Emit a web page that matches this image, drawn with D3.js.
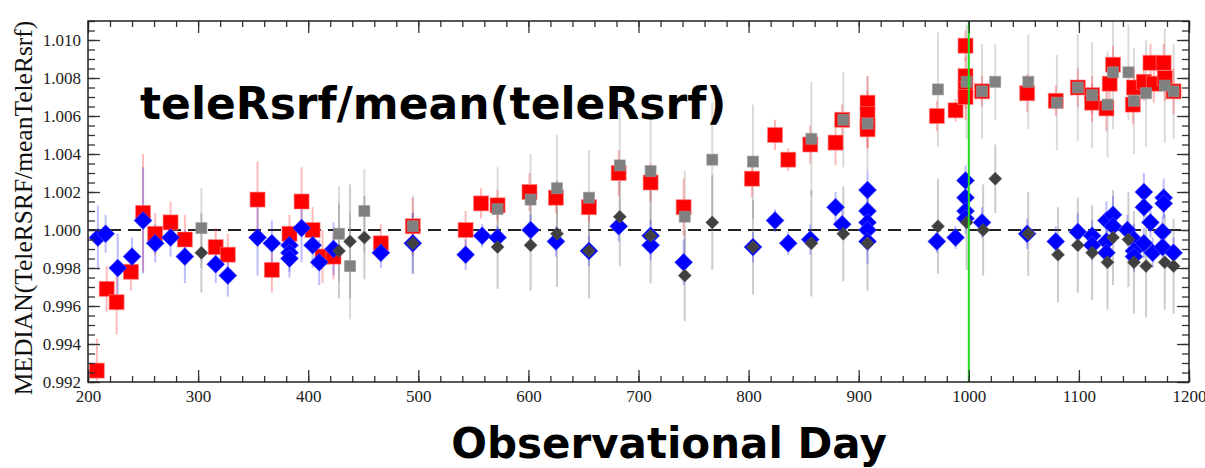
<!DOCTYPE html>
<html>
<head>
<meta charset="utf-8">
<script src="https://cdn.jsdelivr.net/npm/d3@7"></script>
<style>
  html, body { margin: 0; padding: 0; background: #fff; }
  svg { display: block; }
</style>
</head>
<body>
<svg id="chart" width="1205" height="468"></svg>
<script>
// ---- Data: [observational day, median ratio, error half-length] ----
const redSquares = [
  [208,0.9926,0.0017],[217,0.9969,0.0012],[226,0.9962,0.0017],[239,0.9978,0.0010],[250,1.0009,0.0031],
  [261,0.9998,0.0011],[275,1.0004,0.0011],[288,0.9995,0.0013],[316,0.9991,0.0010],[327,0.9987,0.0011],
  [354,1.0016,0.0020],[367,0.9979,0.0012],[383,0.9998,0.0010],[394,1.0015,0.0018],[404,1.0000,0.0012],
  [413,0.9986,0.0014],[423,0.9986,0.0012],[466,0.9993,0.0010],[495,1.0002,0.0015],[543,1.0000,0.0010],
  [557,1.0014,0.0008],[572,1.0013,0.0008],[601,1.0020,0.0010],[625,1.0017,0.0008],[655,1.0012,0.0008],
  [682,1.0030,0.0012],[711,1.0025,0.0010],[741,1.0012,0.0015],[803,1.0027,0.0010],[824,1.0050,0.0008],
  [836,1.0037,0.0006],[856,1.0045,0.0010],[879,1.0046,0.0012],[885,1.0058,0.0008],[908,1.0067,0.0014],
  [908,1.0061,0.0012],[908,1.0055,0.0012],[908,1.0053,0.0010],[971,1.0060,0.0008],[988,1.0063,0.0006],
  [997,1.0097,0.0008],[997,1.0081,0.0010],[997,1.0074,0.0010],[997,1.0070,0.0012],[1012,1.0073,0.0008],
  [1053,1.0072,0.0010],[1079,1.0068,0.0008],[1099,1.0075,0.0010],[1112,1.0071,0.0010],[1112,1.0067,0.0010],
  [1125,1.0064,0.0012],[1128,1.0077,0.0010],[1131,1.0087,0.0010],[1149,1.0066,0.0010],[1150,1.0075,0.0010],
  [1159,1.0078,0.0010],[1165,1.0088,0.0010],[1168,1.0077,0.0010],[1177,1.0088,0.0010],[1178,1.0080,0.0012],
  [1186,1.0073,0.0012]
];
const graySquares = [
  [303,1.0001,0.0021],[428,0.9998,0.0025],[438,0.9981,0.0028],[451,1.0010,0.0022],[495,1.0002,0.0016],
  [572,1.0011,0.0022],[602,1.0016,0.0024],[626,1.0022,0.0028],[655,1.0017,0.0025],[683,1.0034,0.0032],
  [711,1.0031,0.0028],[742,1.0007,0.0024],[767,1.0037,0.0030],[804,1.0036,0.0030],[857,1.0048,0.0030],
  [886,1.0058,0.0025],[908,1.0056,0.0025],[972,1.0074,0.0030],[998,1.0078,0.0030],[1012,1.0073,0.0025],
  [1024,1.0078,0.0020],[1054,1.0078,0.0025],[1080,1.0067,0.0025],[1099,1.0075,0.0028],[1112,1.0071,0.0028],
  [1126,1.0066,0.0028],[1131,1.0083,0.0030],[1145,1.0083,0.0025],[1150,1.0068,0.0028],[1161,1.0072,0.0028],
  [1178,1.0076,0.0030],[1186,1.0073,0.0025]
];
const blueDiamonds = [
  [209,0.9996,0.0017],[216,0.9998,0.0010],[227,0.9980,0.0018],[240,0.9986,0.0010],[250,1.0005,0.0028],
  [261,0.9993,0.0010],[275,0.9996,0.0010],[288,0.9986,0.0014],[316,0.9982,0.0010],[327,0.9976,0.0011],
  [354,0.9996,0.0020],[367,0.9993,0.0012],[383,0.9992,0.0010],[383,0.9988,0.0010],[383,0.9985,0.0010],
  [394,1.0001,0.0018],[404,0.9992,0.0012],[410,0.9983,0.0012],[423,0.9990,0.0014],[466,0.9988,0.0008],
  [495,0.9993,0.0016],[543,0.9987,0.0008],[558,0.9997,0.0006],[572,0.9996,0.0006],[602,1.0000,0.0008],
  [625,0.9994,0.0008],[655,0.9989,0.0008],[682,1.0002,0.0008],[711,0.9997,0.0008],[711,0.9992,0.0008],
  [741,0.9983,0.0012],[804,0.9991,0.0008],[824,1.0005,0.0006],[836,0.9993,0.0006],[856,0.9995,0.0008],
  [879,1.0012,0.0008],[885,1.0003,0.0008],[908,1.0021,0.0010],[908,1.0010,0.0010],[908,1.0004,0.0010],
  [908,1.0000,0.0010],[908,0.9994,0.0012],[971,0.9994,0.0006],[988,0.9996,0.0006],[997,1.0026,0.0008],
  [997,1.0017,0.0008],[997,1.0010,0.0008],[997,1.0006,0.0008],[1012,1.0004,0.0008],[1053,0.9998,0.0008],
  [1079,0.9994,0.0008],[1099,0.9999,0.0010],[1112,0.9997,0.0008],[1112,0.9992,0.0008],[1125,1.0005,0.0010],
  [1125,0.9994,0.0008],[1125,0.9988,0.0008],[1131,1.0008,0.0010],[1131,1.0002,0.0008],[1144,1.0000,0.0008],
  [1150,0.9995,0.0008],[1150,0.9989,0.0008],[1150,0.9986,0.0008],[1159,1.0020,0.0010],[1159,1.0012,0.0008],
  [1165,1.0004,0.0008],[1159,0.9993,0.0008],[1167,0.9988,0.0008],[1177,1.0017,0.0010],[1177,1.0014,0.0008],
  [1176,0.9999,0.0008],[1176,0.9991,0.0008],[1186,0.9988,0.0008]
];
const darkDiamonds = [
  [303,0.9988,0.0021],[428,0.9989,0.0025],[438,0.9994,0.0030],[451,0.9996,0.0022],[495,0.9993,0.0016],
  [572,0.9991,0.0022],[602,0.9992,0.0024],[626,0.9998,0.0028],[655,0.9989,0.0025],[683,1.0007,0.0026],
  [711,0.9997,0.0025],[742,0.9976,0.0024],[767,1.0004,0.0025],[804,0.9991,0.0025],[857,0.9993,0.0028],
  [886,0.9998,0.0025],[908,0.9993,0.0025],[972,1.0002,0.0025],[998,1.0004,0.0025],[1013,1.0000,0.0024],
  [1024,1.0027,0.0018],[1054,0.9998,0.0022],[1081,0.9987,0.0025],[1099,0.9992,0.0025],[1112,0.9988,0.0025],
  [1126,0.9983,0.0025],[1131,0.9996,0.0025],[1145,0.9995,0.0025],[1150,0.9983,0.0027],[1161,0.9981,0.0027],
  [1178,0.9983,0.0025],[1186,0.9981,0.0025]
];
const xDomain = [200, 1200];
const yDomain = [0.992, 1.011];
const xMajorTicks = [200, 300, 400, 500, 600, 700, 800, 900, 1000, 1100, 1200];
const yMajorTicks = [0.992, 0.994, 0.996, 0.998, 1.000, 1.002, 1.004, 1.006, 1.008, 1.010];
const referenceLevel = 1.000;
const markerDay = 1000;
const yTitle = "MEDIAN(TeleRSRF/meanTeleRsrf)";
const xTitle = "Observational Day";
const panelLabel = "teleRsrf/mean(teleRsrf)";

// ---- Layout ----
const plot = { left: 88, right: 1189, top: 21, bottom: 382 };
const svg = d3.select("#chart");
const x = d3.scaleLinear().domain(xDomain).range([plot.left, plot.right]);
const y = d3.scaleLinear().domain(yDomain).range([plot.bottom, plot.top]);

const xMinor = d3.range(xDomain[0], xDomain[1] + 0.001, 20);
const yMinor = d3.range(0, 39).map(i => +(yDomain[0] + i * 0.0005).toFixed(4));

svg.append("defs").append("clipPath").attr("id", "clip")
  .append("rect").attr("x", plot.left).attr("y", plot.top)
  .attr("width", plot.right - plot.left).attr("height", plot.bottom - plot.top);

const data = svg.append("g").attr("clip-path", "url(#clip)");

data.append("line")
  .attr("x1", plot.left).attr("x2", plot.right)
  .attr("y1", y(referenceLevel)).attr("y2", y(referenceLevel))
  .attr("stroke", "#222").attr("stroke-width", 2).attr("stroke-dasharray", "13,7");

function errBars(arr, color, width) {
  data.append("g").selectAll("line").data(arr).join("line")
    .attr("x1", d => x(d[0])).attr("x2", d => x(d[0]))
    .attr("y1", d => y(d[1] - d[2])).attr("y2", d => y(d[1] + d[2]))
    .attr("stroke", color).attr("stroke-width", width);
}
errBars(graySquares, "rgba(150,150,150,0.35)", 2);
errBars(darkDiamonds, "rgba(110,110,110,0.35)", 2);
errBars(redSquares, "rgba(255,60,60,0.35)", 2);
errBars(blueDiamonds, "rgba(40,40,255,0.3)", 2);

function squares(arr, size, fill, stroke) {
  data.append("g").selectAll("rect").data(arr).join("rect")
    .attr("x", d => x(d[0]) - size / 2).attr("y", d => y(d[1]) - size / 2)
    .attr("width", size).attr("height", size)
    .attr("fill", fill).attr("stroke", stroke).attr("stroke-width", 1);
}
function diamonds(arr, half, fill, stroke) {
  data.append("g").selectAll("path").data(arr).join("path")
    .attr("d", d => {
      const cx = x(d[0]), cy = y(d[1]);
      return `M${cx},${cy - half}L${cx + half},${cy}L${cx},${cy + half}L${cx - half},${cy}Z`;
    })
    .attr("fill", fill).attr("stroke", stroke).attr("stroke-width", 1);
}
squares(redSquares, 15, "#ff0000", "rgba(255,130,130,0.6)");
squares(graySquares, 11, "#808080", "rgba(150,150,150,0.6)");
diamonds(blueDiamonds, 9, "#0000ff", "rgba(90,90,255,0.6)");
diamonds(darkDiamonds, 6.5, "#404040", "rgba(90,90,90,0.6)");

data.append("line")
  .attr("x1", x(markerDay)).attr("x2", x(markerDay))
  .attr("y1", plot.top).attr("y2", plot.bottom)
  .attr("stroke", "#22dd22").attr("stroke-width", 2);

// ---- Axes ----
const tickFont = "Liberation Serif, Times New Roman, serif";
function styleAxis(g) {
  g.select(".domain").remove();
  g.selectAll("line").attr("stroke", "#333").attr("stroke-width", 1.3);
  g.selectAll("text").attr("font-family", tickFont).attr("font-size", 17).attr("fill", "#222");
}
svg.append("g").attr("transform", `translate(0,${plot.bottom})`)
  .call(d3.axisBottom(x).tickValues(xMajorTicks).tickSize(-12).tickPadding(8).tickFormat(d3.format("d")))
  .call(styleAxis);
svg.append("g").attr("transform", `translate(0,${plot.bottom})`)
  .call(d3.axisBottom(x).tickValues(xMinor).tickSize(-6).tickFormat(""))
  .call(styleAxis);
svg.append("g").attr("transform", `translate(0,${plot.top})`)
  .call(d3.axisTop(x).tickValues(xMajorTicks).tickSize(-12).tickFormat(""))
  .call(styleAxis);
svg.append("g").attr("transform", `translate(0,${plot.top})`)
  .call(d3.axisTop(x).tickValues(xMinor).tickSize(-6).tickFormat(""))
  .call(styleAxis);
svg.append("g").attr("transform", `translate(${plot.left},0)`)
  .call(d3.axisLeft(y).tickValues(yMajorTicks).tickSize(-12).tickPadding(7).tickFormat(d3.format(".3f")))
  .call(styleAxis);
svg.append("g").attr("transform", `translate(${plot.left},0)`)
  .call(d3.axisLeft(y).tickValues(yMinor).tickSize(-7).tickFormat(""))
  .call(styleAxis);
svg.append("g").attr("transform", `translate(${plot.right},0)`)
  .call(d3.axisRight(y).tickValues(yMajorTicks).tickSize(-12).tickFormat(""))
  .call(styleAxis);
svg.append("g").attr("transform", `translate(${plot.right},0)`)
  .call(d3.axisRight(y).tickValues(yMinor).tickSize(-7).tickFormat(""))
  .call(styleAxis);

svg.append("rect")
  .attr("x", plot.left).attr("y", plot.top)
  .attr("width", plot.right - plot.left).attr("height", plot.bottom - plot.top)
  .attr("fill", "none").attr("stroke", "#222").attr("stroke-width", 1.5);

// ---- Titles ----
svg.append("text")
  .attr("transform", `translate(32,${(plot.top + 395) / 2}) rotate(-90)`)
  .attr("text-anchor", "middle")
  .attr("font-family", tickFont).attr("font-size", 25.5).attr("fill", "#111")
  .text(yTitle);

svg.append("text")
  .attr("x", 669).attr("y", 458)
  .attr("text-anchor", "middle")
  .attr("font-family", "DejaVu Sans, Verdana, sans-serif").attr("font-weight", "bold")
  .attr("font-size", 42).attr("fill", "#000")
  .text(xTitle);

svg.append("text")
  .attr("x", 140).attr("y", 119)
  .attr("font-family", "DejaVu Sans, Verdana, sans-serif").attr("font-weight", "bold")
  .attr("font-size", 44).attr("fill", "#000")
  .text(panelLabel);
</script>
</body>
</html>
